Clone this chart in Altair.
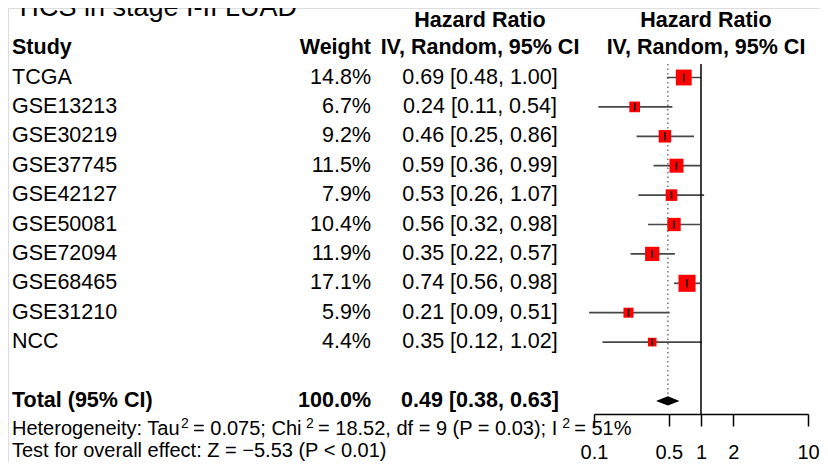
import altair as alt
import pandas as pd

# ---------------- data ----------------
title_text = "TICS in stage I-II LUAD"
studies = ["TCGA", "GSE13213", "GSE30219", "GSE37745", "GSE42127",
           "GSE50081", "GSE72094", "GSE68465", "GSE31210", "NCC"]
weights = [14.8, 6.7, 9.2, 11.5, 7.9, 10.4, 11.9, 17.1, 5.9, 4.4]
hr = [0.69, 0.24, 0.46, 0.59, 0.53, 0.56, 0.35, 0.74, 0.21, 0.35]
lower = [0.48, 0.11, 0.25, 0.36, 0.26, 0.32, 0.22, 0.56, 0.09, 0.12]
upper = [1.00, 0.54, 0.86, 0.99, 1.07, 0.98, 0.57, 0.98, 0.51, 1.02]
total_label = "Total (95% CI)"
total_weight = 100.0
total_hr, total_lower, total_upper = 0.49, 0.38, 0.63
NB = "\u00a0"
# heterogeneity line: (text, is_superscript)
heterogeneity = [("Heterogeneity: Tau", False), ("2", True),
                 (NB + "= 0.075; Chi", False), ("2", True),
                 (NB + "= 18.52, df = 9 (P = 0.03); I", False), ("2", True),
                 (NB + "= 51%", False)]
overall = "Test for overall effect: Z = \u22125.53 (P < 0.01)"
axis_ticks = [0.1, 0.5, 1, 2, 10]
hdr_study, hdr_weight = "Study", "Weight"
hdr_hr1, hdr_hr2 = "Hazard Ratio", "IV, Random, 95% CI"

# ---------------- layout ----------------
W, H = 812, 454
OFF = 8                        # page margin
ROW0, ROWH = 77.5 - OFF, 29.4  # chart px of first study row, row pitch
FONT = "Liberation Sans"
FS = 21.5       # table text
FS_FOOT = 20    # heterogeneity / overall test
SUP_FS = 14
SUP_SLOT = 11
X_STUDY, X_WEIGHT, X_CI, X_FOREST_HDR = 12 - OFF, 371 - OFF, 480 - OFF, 706 - OFF


def page_row(y_page):
    return (y_page - OFF - ROW0) / ROWH


n = len(studies)
total_row = n + 1
hdr1_row = page_row(21)
het_row = page_row(429)
test_row = page_row(451)
axis_row = page_row(414)
top_row = page_row(64)
title_row = page_row(16)

# Arial / Liberation Sans advance widths (1/1000 em) for text placement
AW = {"H": 722, "e": 556, "t": 278, "r": 333, "o": 556, "g": 556, "n": 556,
      "i": 222, "y": 500, ":": 278, " ": 278, NB: 278, "T": 611, "a": 556,
      "u": 556, "=": 584, ".": 278, ";": 278, "C": 722, "h": 556, ",": 278,
      "d": 556, "f": 278, "(": 333, "P": 667, ")": 333, "I": 278, "%": 889}
for ch in "0123456789":
    AW[ch] = 556


def text_width(s, size):
    return sum(AW.get(c, 556) for c in s) * size / 1000.0


yscale = alt.Scale(domain=[0, 1], range=[ROW0, ROW0 + ROWH], zero=False, nice=False)
xscale = alt.Scale(type="log", domain=[0.1, 10], range=[594 - OFF, 808 - OFF], nice=False)
xaxis = alt.Axis(values=axis_ticks, format="~g", title=None, grid=False,
                 tickSize=12, tickWidth=1.5, tickColor="black",
                 domainColor="black", domainWidth=1.5,
                 labelFont=FONT, labelFontSize=FS_FOOT, labelColor="black",
                 labelPadding=16, labelFlush=False, labelOverlap=False,
                 offset=-(H - (ROW0 + ROWH * axis_row)))

df = pd.DataFrame({
    "study": studies, "w": weights, "hr": hr, "lo": lower, "hi": upper,
    "row": list(range(n)),
})
df["wlab"] = [f"{w:.1f}%" for w in weights]
df["ci"] = [f"{h:.2f} [{l:.2f}, {u:.2f}]" for h, l, u in zip(hr, lower, upper)]
df["t0"] = df["row"] - 0.135
df["t1"] = df["row"] + 0.135


def text_layer(texts, rows, x, align, bold=False, size=FS, baseline="middle", dy=0):
    d = pd.DataFrame({"t": texts, "row": rows})
    return alt.Chart(d).mark_text(
        align=align, baseline=baseline, font=FONT, fontSize=size,
        fontWeight="bold" if bold else "normal", color="black", dy=dy
    ).encode(
        x=alt.value(x),
        y=alt.Y("row:Q", scale=yscale, axis=None),
        text="t:N",
    )


layers = []

# title (partly cut at the top, as in the reference)
layers.append(text_layer([title_text], [title_row], 15 - OFF, "left",
                         size=27, baseline="alphabetic"))

# headers
layers.append(text_layer([hdr_hr1], [hdr1_row], X_CI, "center", bold=True))
layers.append(text_layer([hdr_hr1], [hdr1_row], X_FOREST_HDR, "center", bold=True))
layers.append(text_layer([hdr_study], [-1], X_STUDY, "left", bold=True))
layers.append(text_layer([hdr_weight], [-1], X_WEIGHT, "right", bold=True))
layers.append(text_layer([hdr_hr2], [-1], X_CI, "center", bold=True))
layers.append(text_layer([hdr_hr2], [-1], X_FOREST_HDR, "center", bold=True))

# study rows
layers.append(text_layer(studies, df["row"].tolist(), X_STUDY, "left"))
layers.append(text_layer(df["wlab"].tolist(), df["row"].tolist(), X_WEIGHT, "right"))
layers.append(text_layer(df["ci"].tolist(), df["row"].tolist(), X_CI, "center"))

# total row
layers.append(text_layer([total_label], [total_row], X_STUDY, "left", bold=True))
layers.append(text_layer([f"{total_weight:.1f}%"], [total_row], X_WEIGHT, "right", bold=True))
layers.append(text_layer([f"{total_hr:.2f} [{total_lower:.2f}, {total_upper:.2f}]"],
                         [total_row], X_CI, "center", bold=True))

# heterogeneity line with superscripts
xpos = X_STUDY
for seg, sup in heterogeneity:
    if sup:
        layers.append(text_layer([seg], [het_row], xpos - 1.0, "left",
                                 size=SUP_FS, dy=-5.5))
        xpos += SUP_SLOT
    else:
        layers.append(text_layer([seg], [het_row], xpos, "left", size=FS_FOOT))
        xpos += text_width(seg, FS_FOOT)

layers.append(text_layer([overall], [test_row], X_STUDY, "left", size=FS_FOOT))

# ---------- forest ----------
ref_df = pd.DataFrame({"x": [1.0], "y": [top_row], "y2": [axis_row]})
pooled_df = pd.DataFrame({"x": [total_hr], "y": [top_row], "y2": [total_row - 0.15]})

layers.append(alt.Chart(df).mark_rule(color="#474747", strokeWidth=1.7).encode(
    x=alt.X("lo:Q", scale=xscale, axis=xaxis),
    x2="hi:Q",
    y=alt.Y("row:Q", scale=yscale, axis=None),
))

layers.append(alt.Chart(pooled_df).mark_rule(
    color="#555555", strokeWidth=1.2, strokeDash=[1.5, 3]).encode(
    x=alt.X("x:Q", scale=xscale, axis=xaxis),
    y=alt.Y("y:Q", scale=yscale, axis=None), y2="y2:Q"))

layers.append(alt.Chart(ref_df).mark_rule(color="black", strokeWidth=1.5).encode(
    x=alt.X("x:Q", scale=xscale, axis=xaxis),
    y=alt.Y("y:Q", scale=yscale, axis=None), y2="y2:Q"))

layers.append(alt.Chart(df).mark_square(color="#ff0000", opacity=1, filled=True).encode(
    x=alt.X("hr:Q", scale=xscale, axis=xaxis),
    y=alt.Y("row:Q", scale=yscale, axis=None),
    size=alt.Size("w:Q", scale=alt.Scale(domain=[0, 100], range=[0, 1700]), legend=None),
))

layers.append(alt.Chart(df).mark_rule(color="black", strokeWidth=1.5).encode(
    x=alt.X("hr:Q", scale=xscale, axis=xaxis),
    y=alt.Y("t0:Q", scale=yscale, axis=None), y2="t1:Q"))

diamond = pd.DataFrame({
    "x": [total_lower, total_hr, total_upper],
    "y": [total_row, total_row - 0.155, total_row],
    "y2": [total_row, total_row + 0.155, total_row],
})
layers.append(alt.Chart(diamond).mark_area(color="black", orient="vertical", opacity=1).encode(
    x=alt.X("x:Q", scale=xscale, axis=xaxis),
    y=alt.Y("y:Q", scale=yscale, axis=None), y2="y2:Q"))

chart = alt.layer(*layers).properties(
    width=W, height=H, padding=0,
    autosize=alt.AutoSizeParams(type="none"),
).configure_view(stroke=None).configure(background="white")

chart.save("out.html", embed_options={"renderer": "svg", "actions": False})
